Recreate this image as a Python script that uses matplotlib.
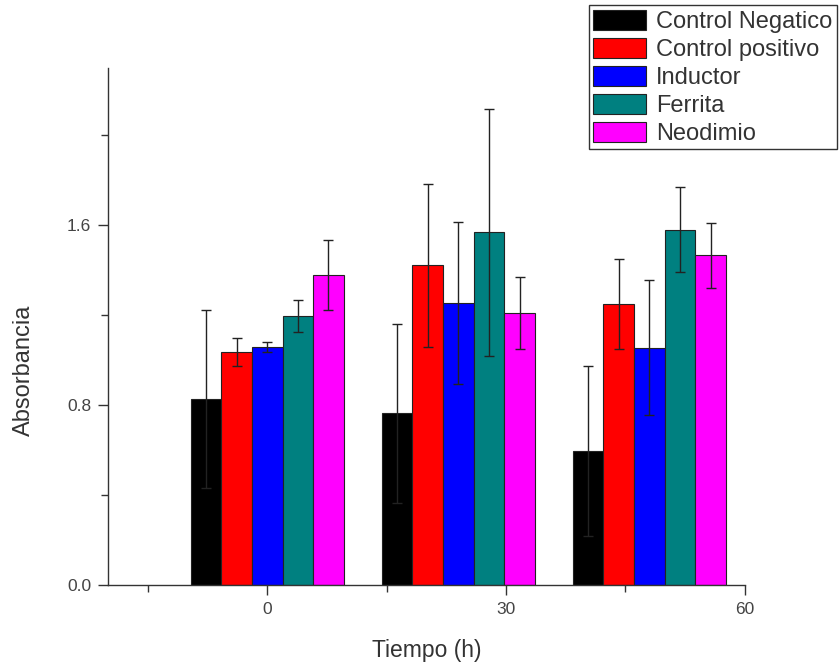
import matplotlib
matplotlib.use("Agg")
import matplotlib.pyplot as plt
import numpy as np

plt.rcParams['font.family'] = ['Liberation Sans', 'DejaVu Sans']

times = [0, 24, 48]
series = ["Control Negatico", "Control positivo", "Inductor", "Ferrita", "Neodimio"]
colors = ["#000000", "#FF0000", "#0000FF", "#008080", "#FF00FF"]

neg_vals = [0.827, 0.764, 0.596]
neg_err = [0.396, 0.397, 0.379]
pos_vals = [1.036, 1.422, 1.249]
pos_err = [0.062, 0.364, 0.200]
ind_vals = [1.059, 1.253, 1.056]
ind_err = [0.021, 0.360, 0.301]
fer_vals = [1.196, 1.569, 1.581]
fer_err = [0.070, 0.550, 0.190]
neo_vals = [1.379, 1.210, 1.467]
neo_err = [0.157, 0.162, 0.145]

values = [neg_vals, pos_vals, ind_vals, fer_vals, neo_vals]
errors = [neg_err, pos_err, ind_err, fer_err, neo_err]

xticks = [0, 30, 60]
xminor = [-15, 15, 45]
yticks = [0.0, 0.8, 1.6]
yminor = [0.4, 1.2, 2.0]

fig = plt.figure(figsize=(8.39, 6.63), dpi=100)
ax = fig.add_axes([0.1287, 0.1176, 0.759, 0.7798])

width = 3.85
n = len(series)
x = np.array(times, dtype=float)
handles = []
for i, (name, col, v, e) in enumerate(zip(series, colors, values, errors)):
    pos = x + (i - (n - 1) / 2) * width
    b = ax.bar(pos, v, width=width, color=col, edgecolor="#222222", linewidth=0.8,
               label=name, zorder=2)
    ax.errorbar(pos, v, yerr=e, fmt="none", ecolor="#222222", elinewidth=1.0,
                capsize=3.6, capthick=1.0, zorder=3)
    handles.append(b)

ax.set_xlim(-20, 60)
ax.set_ylim(0, 2.3)
ax.set_xticks(xticks)
ax.set_xticklabels([str(t) for t in xticks])
ax.set_xticks(xminor, minor=True)
ax.set_yticks(yticks)
ax.set_yticklabels(["%.1f" % t for t in yticks])
ax.set_yticks(yminor, minor=True)

for s in ["top", "right"]:
    ax.spines[s].set_visible(False)
for s in ["left", "bottom"]:
    ax.spines[s].set_color("#333333")
    ax.spines[s].set_linewidth(1.0)

ax.tick_params(which="both", left=True, bottom=True, top=False, right=False)
ax.tick_params(axis="both", which="major", direction="out", length=7, width=1.0,
               color="#333333", labelcolor="#444444", labelsize=12.5, pad=5)
ax.tick_params(axis="both", which="minor", direction="out", length=5, width=1.0,
               color="#333333")

ax.set_xlabel("Tiempo (h)", fontsize=16.5, color="#333333")
ax.xaxis.set_label_coords(0.5, -0.105)
ax.set_ylabel("Absorbancia", fontsize=17, color="#333333")
ax.yaxis.set_label_coords(-0.115, 0.415)

leg = fig.legend(handles=handles, labels=series, loc="upper right",
                 bbox_to_anchor=(0.9975, 0.992), bbox_transform=fig.transFigure,
                 fontsize=17, handlelength=2.25, handleheight=0.93, labelspacing=0.2,
                 handletextpad=0.4, borderpad=0.2, borderaxespad=0, fancybox=False,
                 framealpha=1, edgecolor="#333333")
leg.get_frame().set_linewidth(1.0)
for t in leg.get_texts():
    t.set_color("#333333")

fig.savefig("out.png", dpi=100)
